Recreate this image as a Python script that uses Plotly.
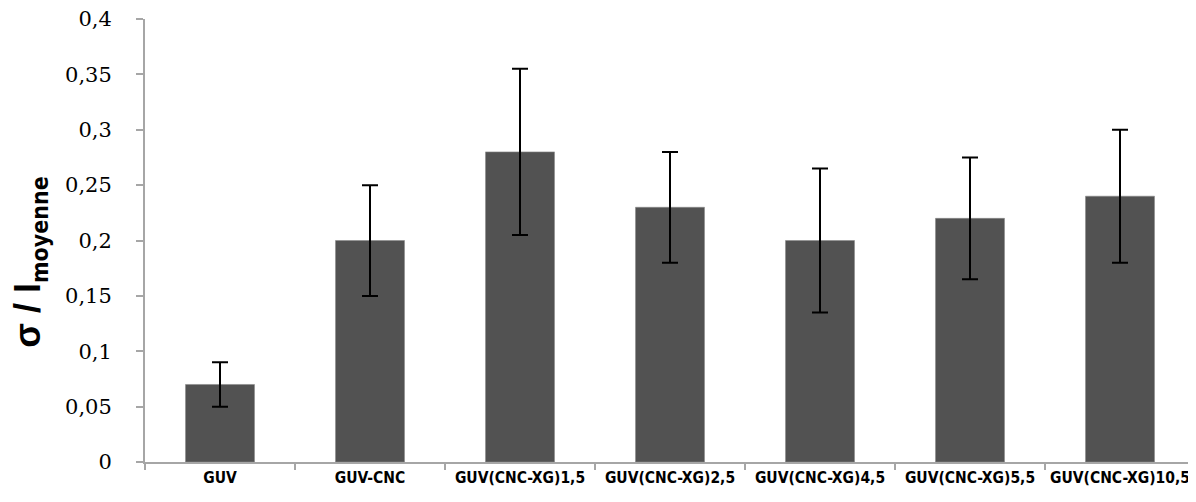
import plotly.graph_objects as go

categories = ["GUV", "GUV-CNC", "GUV(CNC-XG)1,5", "GUV(CNC-XG)2,5",
              "GUV(CNC-XG)4,5", "GUV(CNC-XG)5,5", "GUV(CNC-XG)10,5"]
values = [0.07, 0.20, 0.28, 0.23, 0.20, 0.22, 0.24]
errors = [0.02, 0.05, 0.075, 0.05, 0.065, 0.055, 0.06]
y_ticks = [0, 0.05, 0.1, 0.15, 0.2, 0.25, 0.3, 0.35, 0.4]
y_tick_labels = ["0", "0,05", "0,1", "0,15", "0,2", "0,25", "0,3", "0,35", "0,4"]
y_title = ("<b>σ / I<sub><span style='font-family:DejaVu Sans Condensed, Liberation Sans Narrow, Arial;"
           "font-size:23px'>moyenne</span></sub></b>")

fig = go.Figure(go.Bar(
    x=categories, y=values,
    marker=dict(color="#525252", line=dict(color="#8a8a8a", width=0.6)),
    width=0.46,
    error_y=dict(type="data", array=errors, visible=True,
                 color="black", thickness=2, width=8),
))

fig.update_layout(
    width=1196, height=502,
    margin=dict(l=137, r=9, t=11, b=48),
    plot_bgcolor="white", paper_bgcolor="white",
    showlegend=False,
    separators=", ",
    xaxis=dict(
        range=[-0.5, 6.5], automargin=False,
        showline=True, linecolor="#a6a6a6", linewidth=2,
        ticks="outside", tickson="boundaries", ticklen=6, tickcolor="#a6a6a6", tickwidth=2,
        tickfont=dict(family="DejaVu Sans Condensed, Liberation Sans Narrow, Liberation Sans, Arial",
                      size=15.5, color="black", weight="bold"),
        ticklabeloverflow="allow",
        showgrid=False,
    ),
    yaxis=dict(
        range=[0, 0.4], automargin=False,
        tickvals=y_ticks, ticktext=y_tick_labels,
        showline=True, linecolor="#a6a6a6", linewidth=2,
        ticks="outside", ticklen=7, tickcolor="#a6a6a6", tickwidth=2,
        ticklabelstandoff=20, ticklabeloverflow="allow",
        tickfont=dict(family="DejaVu Serif, Liberation Serif, serif", size=21, color="black"),
        showgrid=False, zeroline=False,
    ),
    annotations=[dict(
        text=y_title, textangle=-90, showarrow=False,
        xref="paper", yref="paper", x=-0.1095, y=0.45,
        xanchor="center", yanchor="middle",
        font=dict(family="Liberation Sans, Arial", size=36, color="black"),
    )],
)

fig.write_html("out.html")
